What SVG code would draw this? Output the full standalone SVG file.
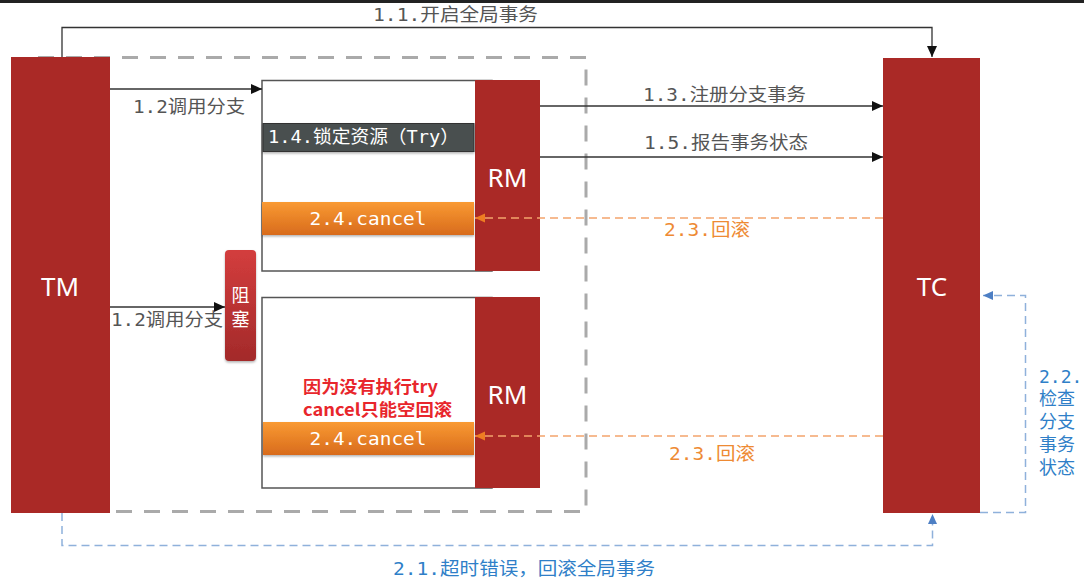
<svg xmlns="http://www.w3.org/2000/svg" width="1084" height="579" viewBox="0 0 1084 579">
<defs>
  <linearGradient id="gOrange" x1="0" y1="0" x2="0" y2="1">
    <stop offset="0" stop-color="#f99a33"/>
    <stop offset="1" stop-color="#d86b1c"/>
  </linearGradient>
  <linearGradient id="gBlock" x1="0" y1="0" x2="0" y2="1">
    <stop offset="0" stop-color="#d33d3d"/>
    <stop offset="1" stop-color="#a32a2a"/>
  </linearGradient>
  <marker id="aBlack" markerWidth="12" markerHeight="12" refX="11" refY="6" orient="auto" markerUnits="userSpaceOnUse">
    <path d="M0,1 L11,6 L0,11 Z" fill="#111"/>
  </marker>
  <marker id="aOrange" markerWidth="12" markerHeight="12" refX="10" refY="5" orient="auto" markerUnits="userSpaceOnUse">
    <path d="M0,0.5 L10,5 L0,9.5 Z" fill="#ee7d22"/>
  </marker>
  <marker id="aBlue" markerWidth="12" markerHeight="12" refX="10" refY="5" orient="auto" markerUnits="userSpaceOnUse">
    <path d="M0,0.5 L10,5 L0,9.5 Z" fill="#4d7fc4"/>
  </marker>
  <filter id="sh" x="-10%" y="-20%" width="120%" height="150%">
    <feDropShadow dx="0" dy="1.5" stdDeviation="1.2" flood-color="#000" flood-opacity="0.3"/>
  </filter>
</defs>
<style>
  .red { fill: #aa2926; }
  .lbl { font-family: "DejaVu Sans Mono", "Noto Sans CJK SC", monospace; font-size: 18px; fill: #555; }
  .org { fill: #ee8a33; }
  .blu { fill: #2f7fc8; }
  .big { font-family: "Noto Sans", "Liberation Sans", sans-serif; font-size: 26px; fill: #fff; text-anchor: middle; }
  .wtx { font-family: "DejaVu Sans Mono", "Noto Sans CJK SC", monospace; font-size: 18px; fill: #fff; }
  .ln { fill: none; stroke: #333; stroke-width: 1.3; }
  .od { fill: none; stroke: #f4a46c; stroke-width: 1.5; stroke-dasharray: 8 5; }
  .bd { fill: none; stroke: #8fb1db; stroke-width: 1.5; stroke-dasharray: 8 5; }
  .box { fill: #fff; stroke: #555; stroke-width: 1.5; }
</style>
<rect x="0" y="0" width="1084" height="579" fill="#fff"/>
<rect x="0" y="0" width="1084" height="3" fill="#222"/>

<!-- dashed gray boundary -->
<path d="M38,57.5 H586 V511.5 H110" fill="none" stroke="#aaa" stroke-width="3" stroke-dasharray="16 12"/>

<g id="TM">
  <rect x="11" y="57" width="99" height="456" class="red"/>
  <text x="60" y="296" class="big">TM</text>
</g>
<g id="TC">
  <rect x="883" y="58" width="97" height="455" class="red"/>
  <text x="932" y="296" class="big">TC</text>
</g>

<g id="branch1">
  <rect x="262" y="80.5" width="230" height="190.5" class="box"/>
  <rect x="475" y="80" width="65" height="191" class="red"/>
  <text x="507.5" y="187" class="big">RM</text>
  <g id="try">
    <rect x="263" y="123.5" width="211" height="28" fill="#4a5050" stroke="#333" stroke-width="1" filter="url(#sh)"/>
    <text x="268" y="143" class="wtx" textLength="191" lengthAdjust="spacingAndGlyphs">1.4.锁定资源（Try）</text>
  </g>
  <g id="cancel1">
    <rect x="262" y="202" width="212" height="33" fill="url(#gOrange)" filter="url(#sh)"/>
    <text x="368" y="225" class="wtx" text-anchor="middle" textLength="117" lengthAdjust="spacingAndGlyphs">2.4.cancel</text>
  </g>
</g>

<g id="block">
  <rect x="225" y="250" width="31" height="111" rx="4" fill="url(#gBlock)" filter="url(#sh)"/>
  <text x="240.5" y="302" class="wtx" text-anchor="middle" style="font-family:'Noto Sans CJK SC',sans-serif">阻</text>
  <text x="240.5" y="326" class="wtx" text-anchor="middle" style="font-family:'Noto Sans CJK SC',sans-serif">塞</text>
</g>

<g id="branch2">
  <rect x="262" y="297.5" width="230" height="190.5" class="box"/>
  <rect x="475" y="297" width="65" height="191" class="red"/>
  <text x="507.5" y="404" class="big">RM</text>
  <text x="303" y="393" textLength="135" lengthAdjust="spacingAndGlyphs" style="font-family:'Noto Sans CJK SC',sans-serif;font-weight:bold;font-size:17px;fill:#e8262c">因为没有执行try</text>
  <text x="303" y="416" textLength="149" lengthAdjust="spacingAndGlyphs" style="font-family:'Noto Sans CJK SC',sans-serif;font-weight:bold;font-size:17px;fill:#e8262c">cancel只能空回滚</text>
  <g id="cancel2">
    <rect x="263" y="422" width="211" height="33" fill="url(#gOrange)" filter="url(#sh)"/>
    <text x="368" y="445" class="wtx" text-anchor="middle" textLength="117" lengthAdjust="spacingAndGlyphs">2.4.cancel</text>
  </g>
</g>

<g id="connectors">
  <path d="M62,57 V27.5 H932 V57" class="ln" stroke="#555" marker-end="url(#aBlack)"/>
  <path d="M110,89 H262" class="ln" marker-end="url(#aBlack)"/>
  <path d="M110,307 H225" class="ln" marker-end="url(#aBlack)"/>
  <path d="M540,106 H883" class="ln" marker-end="url(#aBlack)"/>
  <path d="M540,157 H883" class="ln" marker-end="url(#aBlack)"/>
  <path d="M883,218 H475" class="od" marker-end="url(#aOrange)"/>
  <path d="M883,436 H475" class="od" marker-end="url(#aOrange)"/>
  <path d="M980,512.5 H1025.5 V295.5 H983" class="bd" marker-end="url(#aBlue)"/>
  <path d="M62,513 V545.5 H932.5 V514" class="bd" marker-end="url(#aBlue)"/>

  <text x="373" y="21" class="lbl" textLength="165" lengthAdjust="spacingAndGlyphs">1.1.开启全局事务</text>
  <text x="133" y="113" class="lbl" textLength="112" lengthAdjust="spacingAndGlyphs">1.2调用分支</text>
  <text x="111" y="326" class="lbl" textLength="112" lengthAdjust="spacingAndGlyphs">1.2调用分支</text>
  <text x="643" y="101" class="lbl" textLength="163" lengthAdjust="spacingAndGlyphs">1.3.注册分支事务</text>
  <text x="644" y="149" class="lbl" textLength="164" lengthAdjust="spacingAndGlyphs">1.5.报告事务状态</text>
  <text x="664" y="236" class="lbl org" textLength="86" lengthAdjust="spacingAndGlyphs">2.3.回滚</text>
  <text x="669" y="460" class="lbl org" textLength="86" lengthAdjust="spacingAndGlyphs">2.3.回滚</text>
  <text class="lbl blu">
    <tspan x="1039" y="383">2.2.</tspan>
    <tspan x="1039" y="405">检查</tspan>
    <tspan x="1039" y="428">分支</tspan>
    <tspan x="1039" y="451">事务</tspan>
    <tspan x="1039" y="474">状态</tspan>
  </text>
  <text x="393" y="575" class="lbl blu" textLength="262" lengthAdjust="spacingAndGlyphs">2.1.超时错误，回滚全局事务</text>
</g>
</svg>
